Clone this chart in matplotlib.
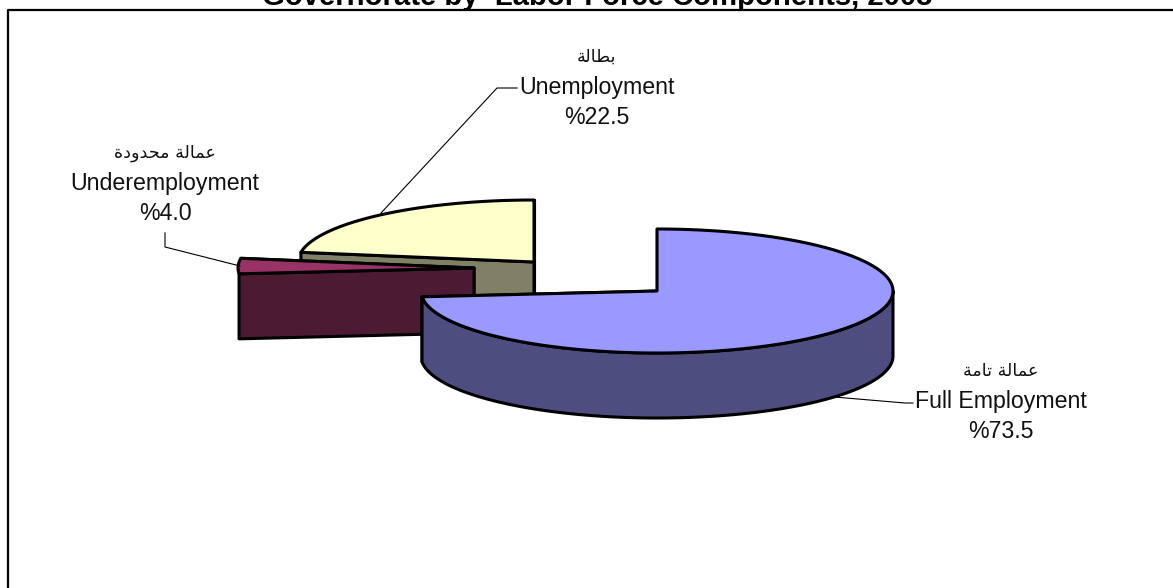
#!/usr/bin/env python3
# -*- coding: utf-8 -*-
import numpy as np
import matplotlib
matplotlib.use('Agg')
import matplotlib.pyplot as plt
from matplotlib.patches import Polygon

plt.rcParams['font.family'] = ['Liberation Sans', 'DejaVu Sans']

title = 'Governorate by  Labor Force Components, 2008'

# Arabic is in presentation forms, visual order: matplotlib does no shaping
arFull = '\ufe94\ufee3\ufe8e\ufe97 \ufe94\ufedf\ufe8e\ufee4\ufecb'
arUnder = ('\ufe93\ufea9\ufeed\ufeaa\ufea4\ufee3 '
           '\ufe94\ufedf\ufe8e\ufee4\ufecb')
arUnemp = '\ufe94\ufedf\ufe8e\ufec4\ufe91'

names = ['Full Employment', 'Underemployment', 'Unemployment']
arabic = [arFull, arUnder, arUnemp]
shares = [73.5, 4.0, 22.5]

topColors = ['#9999FF', '#993366', '#FFFFCC']
sideColors = ['#4D4D80', '#4D1A33', '#808066']
centers = [(657, 291), (474, 268), (534, 262)]
labelXY = [(1001, 371), (165, 153), (597, 57)]
leaders = [[(834, 397), (905, 403), (913, 403)],
           [(240, 266), (165, 247), (165, 233)],
           [(381, 213), (497, 88), (517, 88)]]

rx, ry, depth = 236, 62, 65

fig = plt.figure(figsize=(11.73, 5.88), dpi=100)
ax = fig.add_axes([0, 0, 1, 1])
ax.set_xlim(0, 1173)
ax.set_ylim(588, 0)
ax.axis('off')


def rim(c, a0, a1, n=200):
    t = np.radians(np.linspace(a0, a1, n))
    return np.column_stack([c[0] + rx*np.sin(t), c[1] - ry*np.cos(t)])


def drawSlice(i, a0, a1):
    c = centers[i]
    pts = rim(c, a0, a1)
    down = np.array([0, depth])
    kw = dict(edgecolor='black', linewidth=2.2, joinstyle='round')
    # cut faces, the far one first so the near one hides it
    for p in (pts[-1], pts[0]):
        quad = [c, p, p + down, np.array(c) + down]
        ax.add_patch(Polygon(quad, facecolor=sideColors[i], **kw))
    # outer wall, only the part turned to the viewer
    lo, hi = max(a0, 90), min(a1, 270)
    if lo < hi and hi - lo > 20:
        arc = rim(c, lo, hi)
        wall = np.vstack([arc, arc[::-1] + down])
        ax.add_patch(Polygon(wall, facecolor=sideColors[i], **kw))
    top = np.vstack([[c], pts])
    ax.add_patch(Polygon(top, facecolor=topColors[i], **kw))


ends = np.cumsum(shares)*3.6
starts = ends - np.array(shares)*3.6
for i in [2, 1, 0]:
    drawSlice(i, starts[i], ends[i])

for i, line in enumerate(leaders):
    xs, ys = zip(*line)
    ax.plot(xs, ys, color='black', lw=0.8, zorder=5)
    x, y = labelXY[i]
    ax.text(x, y, arabic[i], family='DejaVu Sans', fontsize=12.6, ha='center',
            va='center', color='#111111')
    ax.text(x, y + 30.5, names[i], fontsize=16.7, ha='center', va='center',
            color='#111111')
    ax.text(x, y + 60.5, '%' + format(shares[i], '.1f'), fontsize=16.7,
            ha='center', va='center', color='#111111')

# outer frame, no bottom or right edge on the page
ax.plot([8, 8, 1173], [588, 10, 10], color='black', lw=1.6, clip_on=False)
ax.text(597, 5, title, fontsize=21.1, fontweight='bold', ha='center',
        va='baseline')

fig.savefig('out.png', dpi=100)
